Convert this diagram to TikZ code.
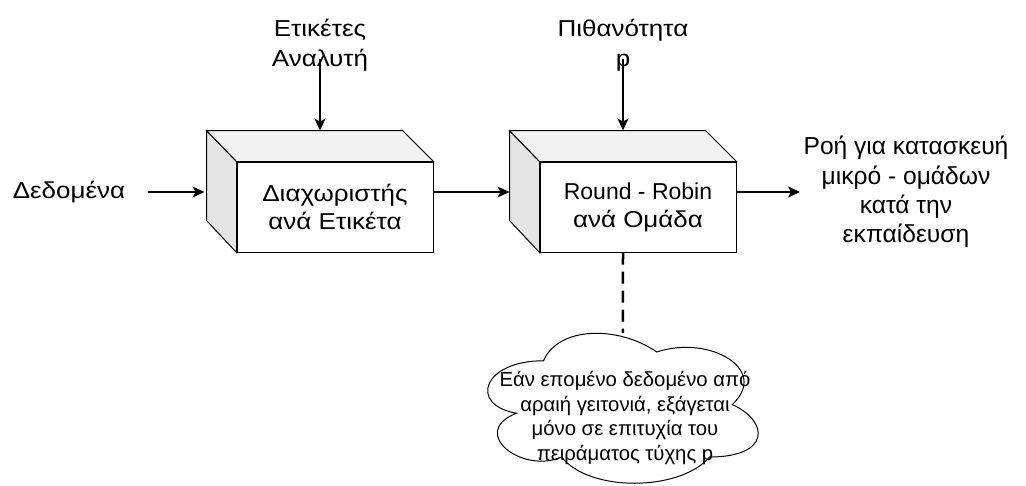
\documentclass[tikz,border=0pt]{standalone}
\usepackage{fontspec}
\setmainfont{Liberation Sans}
\newfontfamily\grwide[FakeStretch=1.13]{Liberation Sans}
\usetikzlibrary{arrows.meta,positioning}

\begin{document}
\begin{tikzpicture}[x=1pt,y=-1pt,
  front/.style={draw,fill=white,line width=1pt,minimum width=196pt,minimum height=90pt,
    inner sep=0pt,align=center,font=\fontsize{23}{28}\selectfont\grwide},
  lbl/.style={align=center,font=\fontsize{23}{30}\selectfont\grwide},
  arr/.style={-{Stealth[length=12pt,width=11pt,inset=3pt]},line width=1.1pt},
  face/.style={draw,line width=1pt,line join=miter}]
  \useasboundingbox (0,0) rectangle (1026,485);

  % the two blocks, front faces first
  \node[front] (sep) at (335,207) {Διαχωριστής\\ανά Ετικέτα};
  \node[front] (rr) at (638,207) {{\rmfamily Round - Robin}\\ανά Ομάδα};
  \foreach \b in {sep,rr} {
    \draw[face,fill=black!10] (\b.north west) -- ++(-30,-31) -- ++(0,90) -- (\b.south west) -- cycle;
    \draw[face,fill=black!5] (\b.north west) -- ++(-30,-31) -- ++(196,0) -- (\b.north east) -- cycle;
  }

  % labels
  \node[lbl] (data) at (69,192) {Δεδομένα};
  \node[lbl] (lab1) at (320,45) {Ετικέτες\\Αναλυτή};
  \node[lbl] (lab2) at (623,45) {Πιθανότητα\\p};
  \node[lbl,font=\fontsize{24.6}{29.2}\selectfont] (flow) at (906,192)
    {Ροή για κατασκευή\\μικρό - ομάδων\\κατά την\\εκπαίδευση};

  % connectors
  \draw[arr] ([xshift=19pt]data.east) -- ([shift={(-32,-15)}]sep.west);
  \draw[arr] ([yshift=15pt]sep.east) -- ([shift={(-30,-15)}]rr.west);
  \draw[arr] ([yshift=15pt]rr.east) -- (flow.west);
  \draw[arr] ([yshift=-14pt]lab1.center) -- ([shift={(-15,-31)}]sep.north);
  \draw[arr] ([yshift=-14pt]lab2.center) -- ([shift={(-15,-31)}]rr.north);

  % cloud
  \begin{scope}[shift={(468,317)},x=302pt,y=-175pt]
    \draw[line width=1pt,fill=white] (0.25,0.25) .. controls (0.05,0.25) and (0,0.5) .. (0.16,0.55)
      .. controls (0,0.66) and (0.18,0.9) .. (0.31,0.8)
      .. controls (0.4,1) and (0.7,1) .. (0.8,0.8)
      .. controls (1,0.8) and (1,0.6) .. (0.875,0.5)
      .. controls (1,0.3) and (0.8,0.1) .. (0.625,0.2)
      .. controls (0.5,0.05) and (0.3,0.05) .. (0.25,0.25) -- cycle;
    \coordinate (cloudtop) at (0.513,0.09);
  \end{scope}
  \node[align=center,font=\fontsize{20.3}{24.5}\selectfont] (note) at (625,418)
    {Εάν επομένο δεδομένο από\\αραιή γειτονιά, εξάγεται\\μόνο σε επιτυχία του\\πειράματος τύχης p};
  \draw[line width=2.5pt,dash pattern=on 12pt off 7pt] ([xshift=-15pt]rr.south) -- (cloudtop);
\end{tikzpicture}
\end{document}
